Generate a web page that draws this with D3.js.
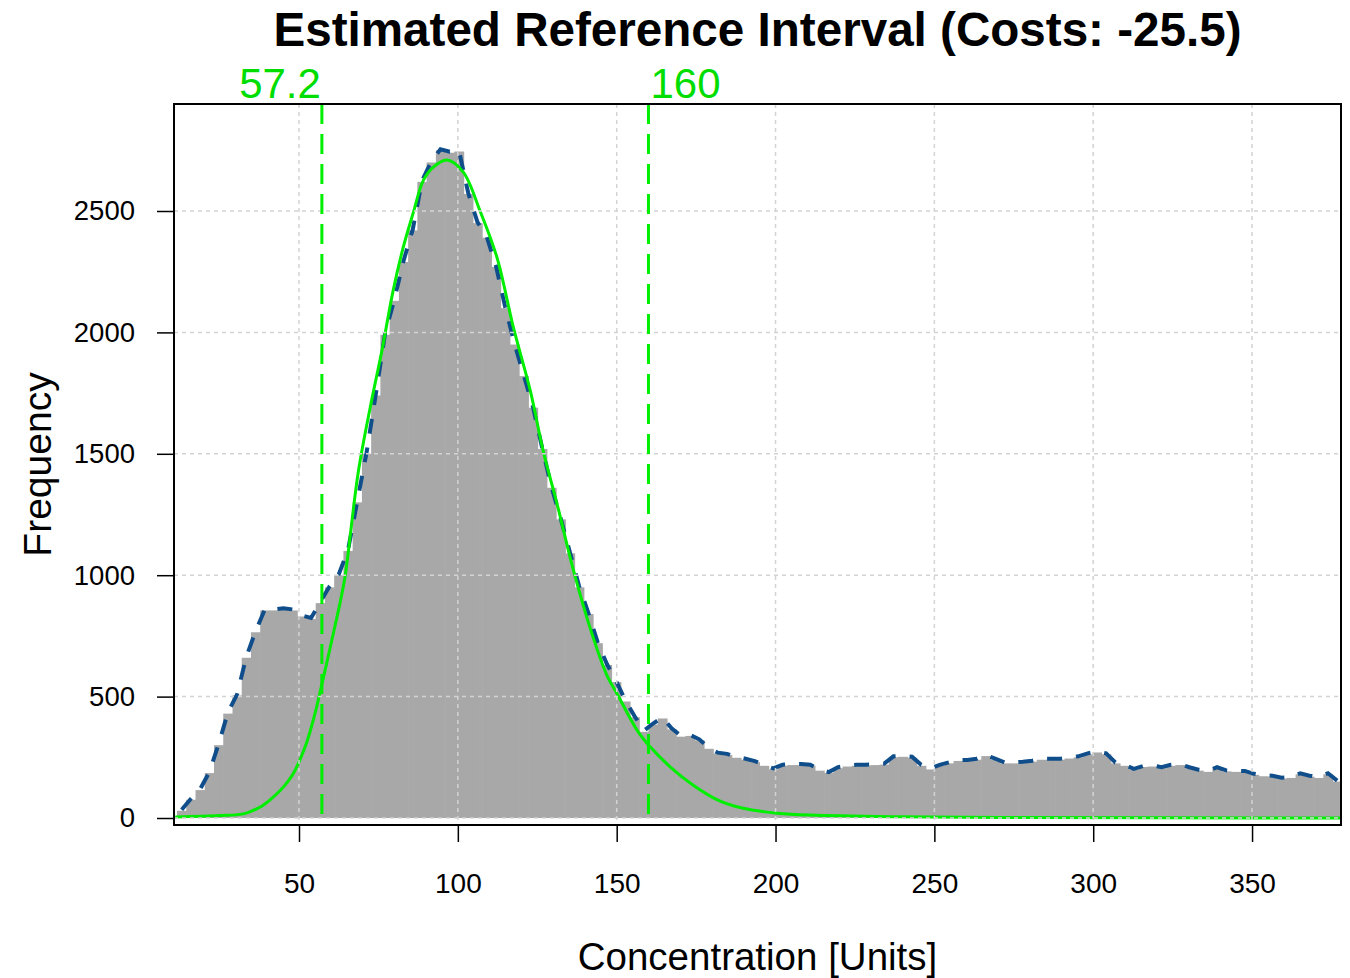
<!DOCTYPE html>
<html>
<head>
<meta charset="utf-8">
<script src="https://cdn.jsdelivr.net/npm/d3@7"></script>
<style>
  html, body { margin: 0; padding: 0; background: #ffffff; }
  svg { display: block; font-family: "Liberation Sans", Arial, sans-serif; }
</style>
</head>
<body>
<svg id="chart" width="1350" height="978"></svg>
<script>
// ---------------- DATA ----------------
const title = "Estimated Reference Interval (Costs: -25.5)";
const xLabel = "Concentration [Units]";
const yLabel = "Frequency";
const xTicks = [50, 100, 150, 200, 250, 300, 350];
const yTicks = [0, 500, 1000, 1500, 2000, 2500];

// histogram: first break and bin width, then one count per bin
const binStart = 11.6;
const binWidth = 2.91;
const counts = [
  30, 75, 115, 185, 300, 430, 505, 660, 765, 855,
  855, 860, 855, 830, 820, 885, 950, 1000, 1100, 1300,
  1500, 1740, 1990, 2130, 2290, 2420, 2620, 2700, 2750, 2740,
  2745, 2570, 2450, 2390, 2270, 2100, 1950, 1820, 1690, 1520,
  1360, 1230, 1090, 950, 840, 720, 630, 560, 480, 415,
  355, 385, 410, 365, 335, 338, 320, 285, 265, 260,
  248, 240, 230, 215, 200, 215, 218, 218, 215, 195,
  185, 205, 212, 215, 215, 218, 220, 250, 252, 248,
  215, 200, 215, 225, 235, 235, 240, 255, 240, 225,
  225, 228, 232, 240, 240, 240, 245, 250, 262, 270,
  262, 225, 215, 198, 210, 212, 205, 215, 218, 205,
  195, 190, 205, 192, 190, 190, 178, 172, 170, 162,
  165, 180, 170, 165, 180, 150
];

// fitted model curve (scaled to frequency)
const curveX = [11.0, 25.1, 32.0, 34.6, 37.8, 40.9, 44.0, 46.6, 48.7, 50.3, 52.4, 54.0, 55.6, 57.1, 58.7,
  60.8, 62.9, 64.5, 68.6, 72.4, 76.1, 79.6, 82.8, 85.9, 89.1, 92.2, 96.6, 101.7, 107.0, 112.4,
  117.4, 122.8, 126.9, 131.3, 136.3, 141.7, 147.0, 150.2, 156.5, 160.6, 166.9, 174.1, 181.7,
  189.8, 200.6, 211.0, 239.3, 270.8, 378.0];
const curveY = [4, 10, 16, 26, 45, 75, 112, 152, 195, 240, 310, 380, 460, 545, 637,
  760, 885, 995, 1420, 1690, 1925, 2170, 2350, 2490, 2625, 2680, 2710, 2660, 2500, 2305,
  2025, 1760, 1510, 1290, 1025, 780, 585, 510, 360, 292, 210, 135, 75,
  40, 20, 12, 5, 2, 0];

// reference interval limits
const limits = [57.2, 160];
const limitLabels = ["57.2", "160"];

// ---------------- LAYOUT ----------------
const svg = d3.select("#chart");
const plot = { left: 174, right: 1341, top: 104, bottom: 825 };

const x = d3.scaleLinear().domain([10.65, 378.0]).range([plot.left, plot.right]);
const y = d3.scaleLinear().domain([-28.8, 2940.7]).range([plot.bottom, plot.top]);

svg.append("defs").append("clipPath").attr("id", "clip")
  .append("rect")
  .attr("x", plot.left).attr("y", plot.top)
  .attr("width", plot.right - plot.left).attr("height", plot.bottom - plot.top);

const g = svg.append("g").attr("clip-path", "url(#clip)");

const bins = counts.map((c, i) => ({
  x0: binStart + i * binWidth,
  x1: binStart + (i + 1) * binWidth,
  n: c
}));

// bars
g.selectAll("rect.bar").data(bins).enter().append("rect")
  .attr("class", "bar")
  .attr("x", d => x(d.x0))
  .attr("width", d => x(d.x1) - x(d.x0) + 0.6)
  .attr("y", d => y(d.n))
  .attr("height", d => y(0) - y(d.n))
  .attr("fill", "#a8a8a8");

// blue dashed outline through bin tops
g.append("path")
  .datum(bins)
  .attr("fill", "none")
  .attr("stroke", "#104E8B")
  .attr("stroke-width", 4)
  .attr("stroke-dasharray", "15,14")
  .attr("d", d3.line().x(d => x((d.x0 + d.x1) / 2)).y(d => y(d.n) - 1));

// green model curve
g.append("path")
  .datum(curveX.map((v, i) => [v, curveY[i]]))
  .attr("fill", "none")
  .attr("stroke", "#00ee00")
  .attr("stroke-width", 3)
  .attr("d", d3.line().curve(d3.curveCatmullRom.alpha(0.5)).x(d => x(d[0])).y(d => y(d[1])));

// grid on top
const grid = svg.append("g");
grid.selectAll("line.gx").data(xTicks).enter().append("line")
  .attr("x1", d => x(d)).attr("x2", d => x(d))
  .attr("y1", plot.top).attr("y2", plot.bottom)
  .attr("stroke", "#d3d3d3").attr("stroke-width", 1.5).attr("stroke-dasharray", "4,4");
grid.selectAll("line.gy").data(yTicks).enter().append("line")
  .attr("y1", d => y(d)).attr("y2", d => y(d))
  .attr("x1", plot.left).attr("x2", plot.right)
  .attr("stroke", "#d3d3d3").attr("stroke-width", 1.5).attr("stroke-dasharray", "4,4");

// vertical reference limits
svg.selectAll("line.lim").data(limits).enter().append("line")
  .attr("x1", d => x(d)).attr("x2", d => x(d))
  .attr("y1", plot.top).attr("y2", plot.bottom)
  .attr("stroke", "#00ee00").attr("stroke-width", 3).attr("stroke-dasharray", "20,10");

svg.selectAll("text.lim").data(limits).enter().append("text")
  .attr("x", (d, i) => i === 0 ? x(d) - 1 : x(d) + 2)
  .attr("y", 98)
  .attr("text-anchor", (d, i) => i === 0 ? "end" : "start")
  .attr("fill", "#00dd00")
  .attr("font-size", 42)
  .text((d, i) => limitLabels[i]);

// axes
const xAxis = d3.axisBottom(x).tickValues(xTicks).tickSize(17).tickPadding(31).tickFormat(d3.format("d"));
const xg = svg.append("g").attr("transform", `translate(0,${plot.bottom})`).call(xAxis);
xg.select(".domain").remove();
xg.selectAll("line").attr("stroke", "#000").attr("stroke-width", 1.5);
xg.selectAll("text").attr("font-size", 28).attr("fill", "#000").attr("font-family", "Liberation Sans, Arial, sans-serif");

const yAxis = d3.axisLeft(y).tickValues(yTicks).tickSize(17).tickPadding(22).tickFormat(d3.format("d"));
const yg = svg.append("g").attr("transform", `translate(${plot.left},0)`).call(yAxis);
yg.select(".domain").remove();
yg.selectAll("line").attr("stroke", "#000").attr("stroke-width", 1.5);
yg.selectAll("text").attr("font-size", 27.5).attr("fill", "#000").attr("font-family", "Liberation Sans, Arial, sans-serif");

// box
svg.append("rect")
  .attr("x", plot.left).attr("y", plot.top)
  .attr("width", plot.right - plot.left).attr("height", plot.bottom - plot.top)
  .attr("fill", "none").attr("stroke", "#000").attr("stroke-width", 2);

// titles
svg.append("text")
  .attr("x", (plot.left + plot.right) / 2).attr("y", 46)
  .attr("text-anchor", "middle").attr("font-weight", "bold").attr("font-size", 47.6)
  .attr("fill", "#000").text(title);

svg.append("text")
  .attr("x", (plot.left + plot.right) / 2).attr("y", 970)
  .attr("text-anchor", "middle").attr("font-size", 38.5)
  .attr("fill", "#000").text(xLabel);

svg.append("text")
  .attr("transform", `translate(51,${(plot.top + plot.bottom) / 2}) rotate(-90)`)
  .attr("text-anchor", "middle").attr("font-size", 39)
  .attr("fill", "#000").text(yLabel);
</script>
</body>
</html>
